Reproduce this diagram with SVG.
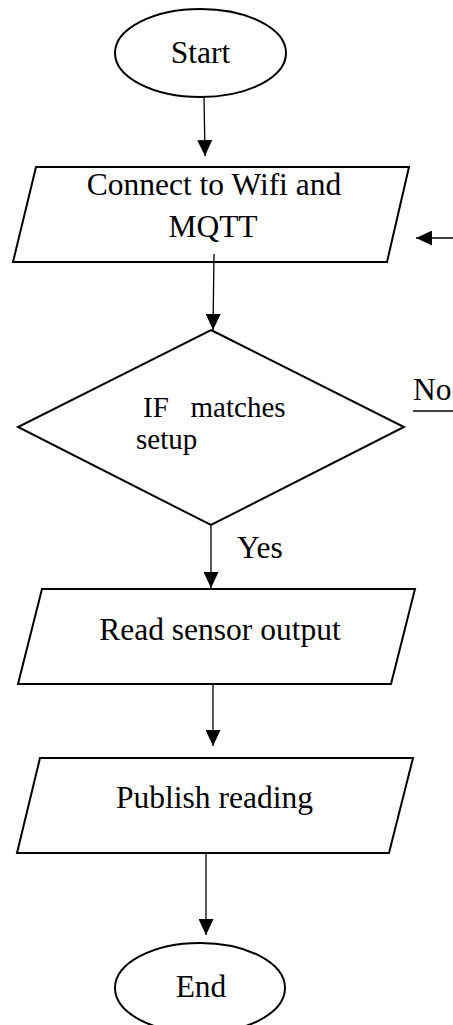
<svg xmlns="http://www.w3.org/2000/svg" width="453" height="1025" viewBox="0 0 453 1025">
<style>
.shape{fill:#fff;stroke:#000;stroke-width:2}
.conn{stroke:#000;stroke-width:1.3;fill:none}
text{font-family:"Liberation Serif","Times New Roman",serif;fill:#000}
.t{font-size:31.5px}
.s{font-size:29px}
</style>
<defs>
<marker id="ah" viewBox="0 0 16 15" refX="16" refY="7.5" markerWidth="16" markerHeight="15" markerUnits="userSpaceOnUse" orient="auto">
<path d="M0,0 L16,7.5 L0,15 Z" fill="#000"/>
</marker>
</defs>
<g id="start">
<ellipse class="shape" cx="200.5" cy="53" rx="85.5" ry="44"/>
<text class="t" x="200.5" y="63" text-anchor="middle">Start</text>
</g>
<g id="connect">
<polygon class="shape" points="36,167 409,167 387,262 13,262"/>
<text class="t" x="214" y="195" text-anchor="middle">Connect to Wifi and</text>
<text class="t" x="213" y="237" text-anchor="middle">MQTT</text>
</g>
<g id="decision">
<polygon class="shape" points="211,330 404,427 211,525 18,427"/>
<text class="s" x="143" y="417" xml:space="preserve">IF   matches</text>
<text class="s" x="136" y="449">setup</text>
</g>
<g id="read">
<polygon class="shape" points="42,589 415,589 391,684 18,684"/>
<text class="t" x="220" y="640" text-anchor="middle">Read sensor output</text>
</g>
<g id="publish">
<polygon class="shape" points="40,758 413,758 389,853 17,853"/>
<text class="t" x="214.5" y="808" text-anchor="middle">Publish reading</text>
</g>
<g id="end">
<ellipse class="shape" cx="200" cy="988" rx="85" ry="45"/>
<text class="t" x="201" y="997" text-anchor="middle">End</text>
</g>
<g id="connectors">
<line class="conn" x1="204" y1="97" x2="205" y2="156" marker-end="url(#ah)"/>
<line class="conn" x1="214" y1="254" x2="213" y2="330" marker-end="url(#ah)"/>
<line class="conn" x1="211" y1="525" x2="211" y2="588" marker-end="url(#ah)"/>
<line class="conn" x1="213" y1="684" x2="213" y2="746" marker-end="url(#ah)"/>
<line class="conn" x1="206" y1="853" x2="206" y2="935" marker-end="url(#ah)"/>
<line class="conn" x1="455" y1="238" x2="416" y2="238" marker-end="url(#ah)"/>
<text class="t" x="237" y="558">Yes</text>
<text class="t" x="413" y="400">No</text>
<line class="conn" x1="413" y1="411" x2="455" y2="411"/>
</g>
</svg>
